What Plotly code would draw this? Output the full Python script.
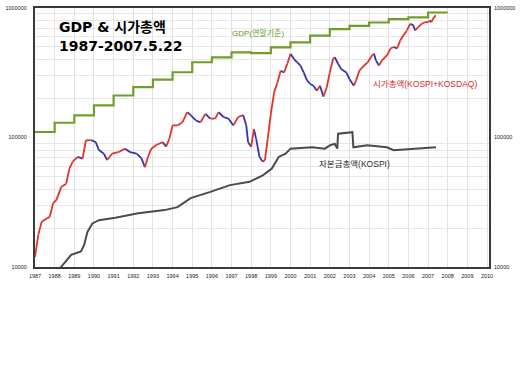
import math
import plotly.graph_objects as go

# ---------------- data ----------------
gdp_years = [1987, 1988, 1989, 1990, 1991, 1992, 1993, 1994, 1995, 1996, 1997,
             1998, 1999, 2000, 2001, 2002, 2003, 2004, 2005, 2006, 2007, 2008]
gdp_values = [110300, 130000, 148000, 177000, 211000, 245000, 280000, 319000,
              381000, 416000, 455000, 448000, 497000, 543000, 611000, 687000,
              729000, 773000, 820000, 845000, 923000, 923000]

mcap_t = [1987.0, 1987.17, 1987.34, 1987.59, 1987.75, 1987.92, 1988.09, 1988.34,
          1988.59, 1988.75, 1988.92, 1989.17, 1989.42, 1989.59, 1989.84, 1990.09,
          1990.25, 1990.5, 1990.67, 1990.92, 1991.24, 1991.59, 1991.84, 1992.17,
          1992.42, 1992.59, 1992.75, 1992.92, 1993.17, 1993.5, 1993.67, 1993.84,
          1994.0, 1994.25, 1994.5, 1994.75, 1994.92, 1995.17, 1995.42, 1995.67,
          1995.92, 1996.17, 1996.34, 1996.59, 1996.84, 1997.09, 1997.34, 1997.59,
          1997.75, 1997.84, 1998.0, 1998.14, 1998.25, 1998.42, 1998.59, 1998.7,
          1998.84, 1999.0, 1999.17, 1999.34, 1999.5, 1999.67, 1999.84, 2000.0,
          2000.17, 2000.34, 2000.5, 2000.67, 2000.84, 2001.0, 2001.17, 2001.34,
          2001.5, 2001.67, 2001.84, 2002.0, 2002.17, 2002.25, 2002.42, 2002.59,
          2002.84, 2003.0, 2003.22, 2003.34, 2003.5, 2003.75, 2003.92, 2004.17,
          2004.25, 2004.34, 2004.5, 2004.67, 2004.92, 2005.09, 2005.25, 2005.42,
          2005.59, 2005.75, 2005.92, 2006.09, 2006.25, 2006.34, 2006.5, 2006.67,
          2006.84, 2007.0, 2007.09, 2007.17, 2007.25, 2007.39]
mcap_values = [12000, 17800, 22400, 23700, 24400, 31000, 33000, 41600,
               44000, 57500, 65000, 70800, 68700, 95000, 95600, 92000,
               80000, 75000, 67000, 75000, 77000, 82000, 77000, 75000,
               69000, 59000, 71000, 82000, 87500, 92000, 85000, 98000,
               124000, 124000, 131000, 157000, 149000, 136000, 131000, 152000,
               140000, 140000, 157000, 144000, 140000, 124000, 144000, 149000,
               124000, 92000, 85000, 116000, 98000, 71000, 65000, 67000,
               98000, 152000, 224000, 267000, 328000, 318000, 371000, 443000,
               405000, 380000, 360000, 318000, 276000, 259000, 251000, 230000,
               251000, 207000, 243000, 318000, 405000, 418000, 371000, 336000,
               318000, 283000, 251000, 276000, 328000, 360000, 380000, 433000,
               443000, 396000, 360000, 396000, 433000, 487000, 500000, 487000,
               563000, 617000, 671000, 755000, 734000, 671000, 711000, 755000,
               777000, 777000, 800000, 777000, 824000, 880000]

cap_t = [1988.3, 1988.84, 1989.34, 1989.5, 1989.67, 1989.92, 1990.25, 1991.09,
         1992.25, 1993.59, 1994.25, 1994.92, 1995.92, 1996.92, 1997.92, 1998.59,
         1999.05, 1999.4, 1999.75, 2000.0, 2001.1, 2001.75, 2002.0, 2002.25,
         2002.38, 2002.42, 2003.15, 2003.2, 2003.9, 2004.9, 2005.25, 2006.1,
         2006.9, 2007.4]
cap_values = [9900, 12400, 13200, 14800, 18700, 21700, 23000, 24000,
              26000, 27500, 29000, 34000, 38000, 42900, 45500, 51000,
              57500, 70800, 75000, 82000, 84000, 82000, 87000, 89600,
              82000, 107000, 110000, 84000, 87000, 84000, 79700, 81000,
              83000, 84000]

REF_LINE = 100000
x_years = list(range(1987, 2011))
x_labels = [str(y) for y in x_years]
y_ticks = [10000, 100000, 1000000]
y_labels = ["10000", "100000", "1000000"]
y_minor = [m * 10 ** e for e in (4, 5) for m in range(2, 10)]

# ---------------- figure ----------------
fig = go.Figure()

fig.add_trace(go.Scatter(x=gdp_years, y=gdp_values, mode="lines",
                         line=dict(color="#6f9f2a", width=2.2, shape="hv"),
                         hoverinfo="skip", showlegend=False))

fig.add_trace(go.Scatter(x=cap_t, y=cap_values, mode="lines",
                         line=dict(color="#4a4a4a", width=2),
                         hoverinfo="skip", showlegend=False, yaxis="y2"))

up_x, up_y, dn_x, dn_y = [], [], [], []
for i in range(1, len(mcap_t)):
    seg_x = [mcap_t[i - 1], mcap_t[i], None]
    seg_y = [mcap_values[i - 1], mcap_values[i], None]
    if mcap_values[i] >= mcap_values[i - 1]:
        up_x += seg_x; up_y += seg_y
    else:
        dn_x += seg_x; dn_y += seg_y

fig.add_trace(go.Scatter(x=dn_x, y=dn_y, mode="lines",
                         line=dict(color="#3434b0", width=1.8),
                         hoverinfo="skip", showlegend=False))
fig.add_trace(go.Scatter(x=up_x, y=up_y, mode="lines",
                         line=dict(color="#e0342c", width=1.8),
                         hoverinfo="skip", showlegend=False))

fig.add_hline(y=math.log10(REF_LINE), line=dict(color="#7b9a45", width=1.2))

tick_font = dict(family="Arial, Liberation Sans, sans-serif", size=5.5, color="#222")

fig.update_layout(
    width=520, height=378,
    margin=dict(l=28, r=30, t=5, b=111),
    paper_bgcolor="white", plot_bgcolor="white",
    xaxis=dict(range=[1987, 2010.1], tickvals=x_years, ticktext=x_labels,
               tickangle=0, tickfont=tick_font, showgrid=True,
               gridcolor="#e2e2e2", gridwidth=1, zeroline=False,
               showline=True, linecolor="#3a3a3a", linewidth=2, mirror=True,
               ticks="", ticklabelstandoff=2),
    yaxis=dict(type="log", range=[4, 6], tickvals=y_ticks, ticktext=y_labels,
               tickfont=tick_font, showgrid=False, zeroline=False,
               showline=True, linecolor="#3a3a3a", linewidth=2, mirror=True,
               ticks="", ticklabelstandoff=5,
               minor=dict(tickvals=y_minor, showgrid=True,
                          gridcolor="#e6e6e6", gridwidth=1, ticks="")),
    yaxis2=dict(type="log", range=[4, 6], tickvals=y_ticks, ticktext=y_labels,
                tickfont=tick_font, overlaying="y", side="right",
                showgrid=False, zeroline=False, showline=False, ticks="",
                ticklabelstandoff=4),
)

title_font = dict(family="DejaVu Sans, Noto Sans CJK KR, sans-serif", size=14,
                  color="black", weight="bold")
fig.add_annotation(text="<b>GDP &amp; 시가총액</b>", xref="paper", yref="paper",
                   x=0.0476, y=0.927, xanchor="left", yanchor="middle",
                   showarrow=False, font=title_font)
fig.add_annotation(text="<b>1987-2007.5.22</b>", xref="paper", yref="paper",
                   x=0.0476, y=0.855, xanchor="left", yanchor="middle",
                   showarrow=False, font=title_font)

lab_family = "Arial, Liberation Sans, Noto Sans CJK KR, sans-serif"
fig.add_annotation(text="GDP(연말기준)", xref="paper", yref="paper",
                   x=0.4286, y=0.9008, xanchor="left", yanchor="middle",
                   showarrow=False,
                   font=dict(family=lab_family, size=8, color="#5f9a1e"))
fig.add_annotation(text="시가총액(KOSPI+KOSDAQ)", xref="paper", yref="paper",
                   x=0.740, y=0.706, xanchor="left", yanchor="middle",
                   showarrow=False,
                   font=dict(family=lab_family, size=8.5, color="#d42a2a"))
fig.add_annotation(text="자본금총액(KOSPI)", xref="paper", yref="paper",
                   x=0.621, y=0.397, xanchor="left", yanchor="middle",
                   showarrow=False,
                   font=dict(family=lab_family, size=8.5, color="#2a2a2a"))

fig.write_html("out.html")
